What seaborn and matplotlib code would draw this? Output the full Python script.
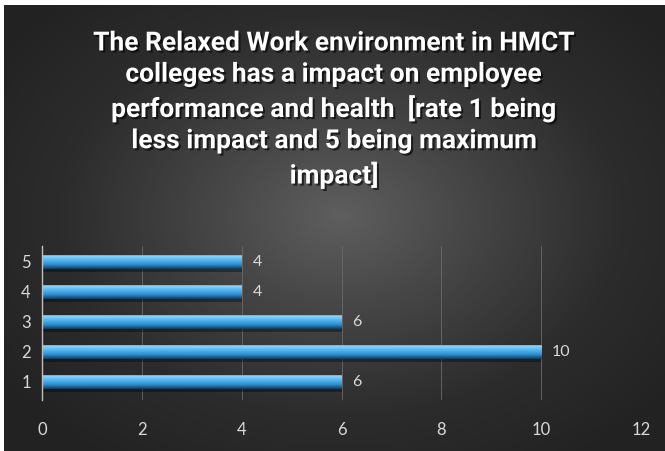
import numpy as np
import pandas as pd
import matplotlib
matplotlib.use("Agg")
import matplotlib.pyplot as plt
import seaborn as sns
from matplotlib.colors import LinearSegmentedColormap
import matplotlib.patheffects as pe

# ---- data ----
ratings = ["5", "4", "3", "2", "1"]
counts = [4, 4, 6, 10, 6]
x_ticks = [0, 2, 4, 6, 8, 10, 12]
title = ("The Relaxed Work environment in HMCT\n"
         "colleges has a impact on employee\n"
         "performance and health  [rate 1 being\n"
         "less impact and 5 being maximum\n"
         "impact]")

df = pd.DataFrame({"rating": ratings, "count": counts})

sns.set_theme(style="white")
plt.rcParams["font.family"] = ["Lato", "DejaVu Sans"]

W, H = 665, 451
fig = plt.figure(figsize=(W / 100, H / 100), dpi=100)
fig.patch.set_facecolor("white")

# ---- background radial gradient ----
bg = fig.add_axes([0, 0, 1, 1], zorder=-5)
bg.set_xlim(0, W)
bg.set_ylim(H, 0)
bg.axis("off")
yy, xx = np.mgrid[0:H - 5, 0:W - 4]
cx, cy = 340, 215
r = np.sqrt(((xx + 4 - cx) / 420.0) ** 2 + ((yy + 5 - cy) / 300.0) ** 2)
r = np.clip(r, 0, 1)
bgcmap = LinearSegmentedColormap.from_list("bg", ["#5e5e5e", "#444444", "#2c2c2c", "#222222"])
bg.imshow(r, cmap=bgcmap, extent=(4, W, H, 5), aspect="auto", interpolation="bilinear", vmin=0, vmax=1)

# ---- title ----
fig.text(334 / W, 1 - 110 / H, title, ha="center", va="center", multialignment="center",
         color="white", fontsize=19, fontweight="bold", linespacing=1.38,
         family=["Roboto", "DejaVu Sans"],
         path_effects=[pe.withSimplePatchShadow(offset=(1.5, -1.5), shadow_rgbFace="black", alpha=0.6)])

# ---- main axes ----
left, right = 42 / W, 641 / W
top, bottom = 1 - 246 / H, 1 - 400 / H
ax = fig.add_axes([left, bottom, right - left, top - bottom])
ax.set_facecolor("none")

sns.barplot(data=df, x="count", y="rating", order=ratings, orient="h",
            width=0.47, color="#3fa3e0", ax=ax, zorder=3)

ax.set_xlim(0, 12)
ax.set_ylim(4.6, -0.53)
ax.set_xticks(x_ticks)
ax.set_xlabel("")
ax.set_ylabel("")

# gradient fill for bars
barcmap = LinearSegmentedColormap.from_list(
    "bar", [(0.0, "#1f5a86"), (0.12, "#8ed6ff"), (0.35, "#5cbcf2"), (0.7, "#2e8fd2"), (1.0, "#123a5c")])
grad = np.linspace(0, 1, 64).reshape(-1, 1)
for p in ax.patches:
    x0, y0 = p.get_x(), p.get_y()
    w, h = p.get_width(), p.get_height()
    p.set_facecolor("none")
    p.set_edgecolor("none")
    im = ax.imshow(grad, cmap=barcmap, extent=(x0, x0 + w, y0 + h, y0), aspect="auto",
                   interpolation="bilinear", zorder=3)
    im.set_clip_path(p)
    # shadow under bar
    ax.fill_between([x0, x0 + w], y0 + h, y0 + h + 0.1, color="black", alpha=0.35, zorder=2, lw=0)
ax.set_xlim(0, 12)
ax.set_ylim(4.6, -0.53)

# data labels
for i, v in enumerate(counts):
    ax.text(v + 0.22, i, str(v), va="center", ha="left", color="#d9d9d9", fontsize=11.5, zorder=4)

# grid & spines
ax.grid(axis="x", color="#6a6a6a", lw=0.6, zorder=0)
ax.grid(axis="y", visible=False)
for s in ["top", "right", "bottom"]:
    ax.spines[s].set_visible(False)
ax.spines["left"].set_color("#bfbfbf")
ax.spines["left"].set_linewidth(1.0)
ax.spines["left"].set_zorder(5)
ax.tick_params(axis="x", colors="#d9d9d9", labelsize=12, length=0, pad=16)
ax.tick_params(axis="y", colors="#d9d9d9", labelsize=12, length=0, pad=8)

fig.savefig("out.png", dpi=100, facecolor="white")
